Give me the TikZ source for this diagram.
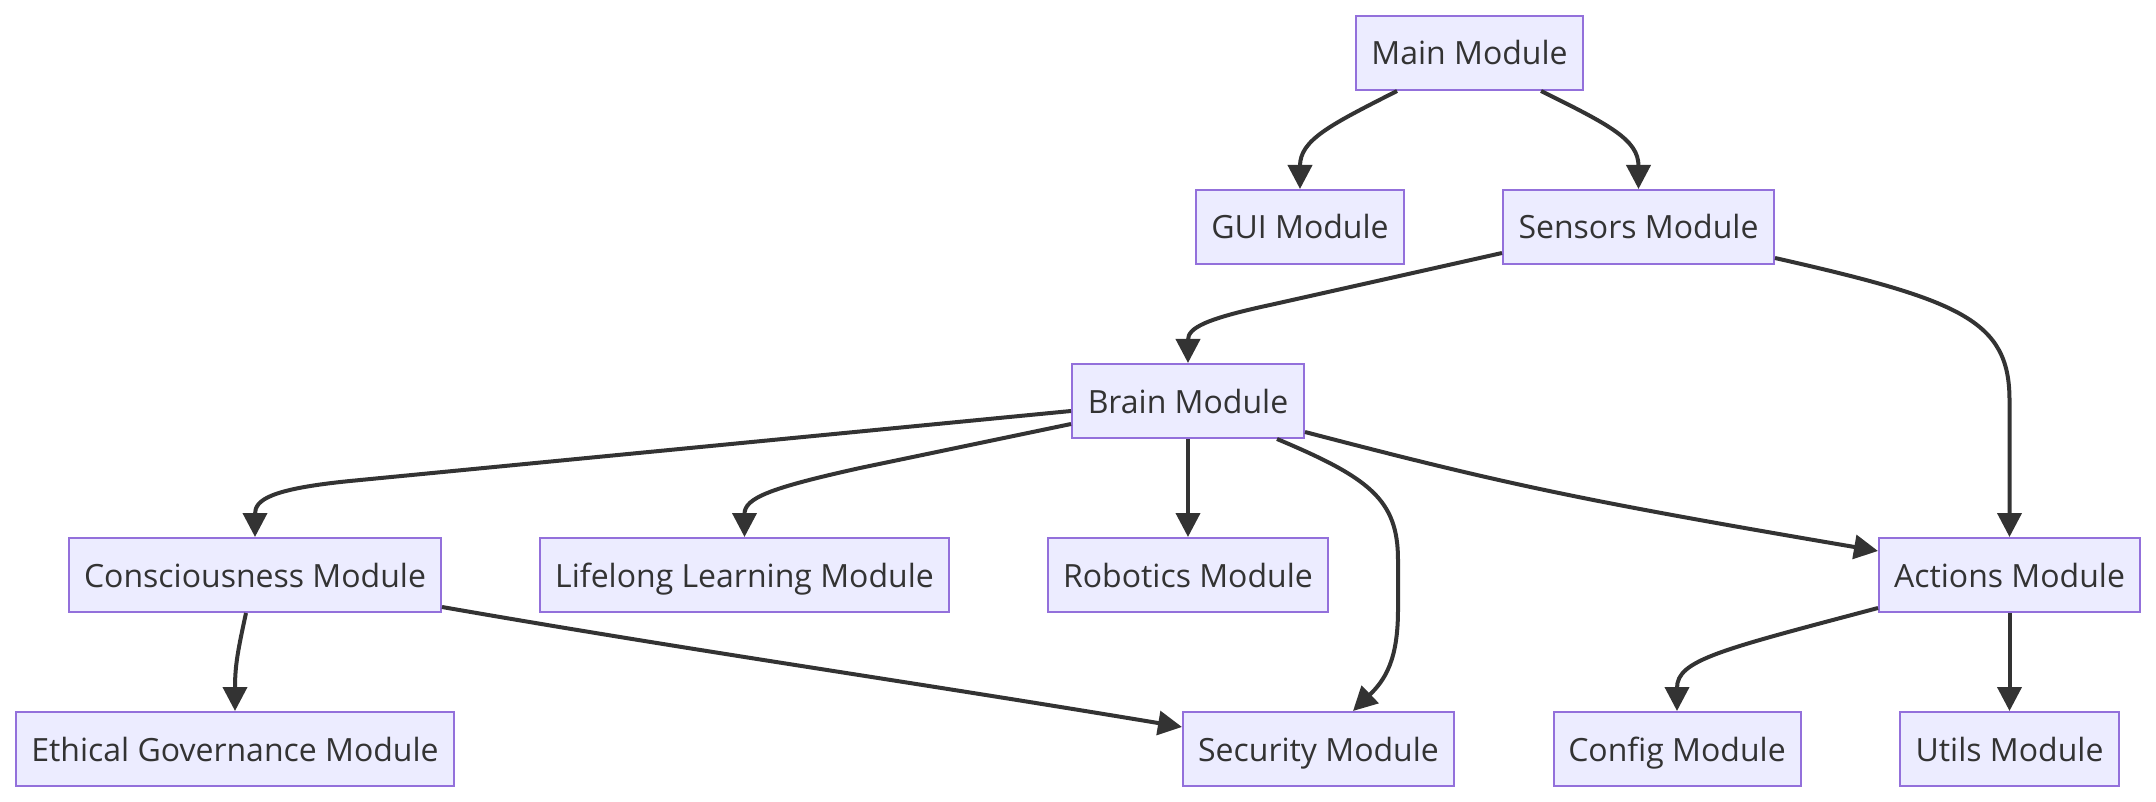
\documentclass[tikz,border=0pt]{standalone}
\usepackage{fontspec}
\setmainfont{Open Sans}
\usetikzlibrary{arrows.meta}
\definecolor{boxfill}{HTML}{ECECFF}
\definecolor{boxline}{HTML}{9370DB}
\definecolor{ink}{HTML}{333333}
\tikzset{
  mod/.style={draw=boxline, fill=boxfill, line width=2pt, inner sep=0pt,
    minimum height=74pt, text height=28pt, text depth=4pt, text=ink,
    font=\fontsize{32}{38}\selectfont},
  link/.style={draw=ink, line width=4pt, -{Triangle[length=24pt,width=24pt]}}
}
\begin{document}
\begin{tikzpicture}[x=1pt,y=-1pt]
\useasboundingbox (0,0) rectangle (2156,802);
\node[mod, minimum width=227pt] (main) at (1469.5,53) {Main Module};
\node[mod, minimum width=208pt] (gui) at (1300,227) {GUI Module};
\node[mod, minimum width=271pt] (sensors) at (1638.5,227) {Sensors Module};
\node[mod, minimum width=232pt] (brain) at (1188,401) {Brain Module};
\node[mod, minimum width=372pt] (cons) at (255,575) {Consciousness Module};
\node[mod, minimum width=409pt] (life) at (744.5,575) {Lifelong Learning Module};
\node[mod, minimum width=280pt] (robo) at (1188,575) {Robotics Module};
\node[mod, minimum width=261pt] (actions) at (2009.5,575) {Actions Module};
\node[mod, minimum width=438pt] (ethical) at (235,749) {Ethical Governance Module};
\node[mod, minimum width=271pt] (security) at (1318.5,749) {Security Module};
\node[mod, minimum width=247pt] (config) at (1677,749) {Config Module};
\node[mod, minimum width=219pt] (utils) at (2009.5,749) {Utils Module};

\draw[link] ([xshift=-72.5pt]main.south) .. controls (1330,125) and (1300,140) .. (gui.north);
\draw[link] ([xshift=71.5pt]main.south) .. controls (1610,125) and (1638.5,140) .. (sensors.north);
\draw[link] ([yshift=-26pt]sensors.west) -- (1270,305) .. controls (1205,319) and (1188,328) .. (brain.north);
\draw[link] ([yshift=-31pt]sensors.east) .. controls (1960,300) and (2009.5,320) .. (2009.5,400) -- (actions.north);
\draw[link] ([yshift=-10pt]brain.west) -- (350,481) .. controls (270,489) and (255,500) .. (cons.north);
\draw[link] ([yshift=-23pt]brain.west) -- (860,468) .. controls (770,488) and (744.5,498) .. (life.north);
\draw[link] (brain.south) -- (robo.north);
\draw[link] ([xshift=89pt]brain.south) .. controls (1370,478) and (1398,500) .. (1398,560) -- (1398,610) .. controls (1398,660) and (1385,680) .. ([xshift=34.5pt]security.north);
\draw[link] ([yshift=-31pt]brain.east) .. controls (1504,484) and (1579,500) .. ([yshift=24pt]actions.west);
\draw[link] ([xshift=-9pt]cons.south) .. controls (238,650) and (235,665) .. (ethical.north);
\draw[link] ([yshift=-32pt]cons.east) .. controls (700,652) and (900,680) .. ([yshift=22pt]security.west);
\draw[link] ([yshift=-33pt]actions.west) .. controls (1720,650) and (1677,660) .. (config.north);
\draw[link] (actions.south) -- (utils.north);
\end{tikzpicture}
\end{document}
